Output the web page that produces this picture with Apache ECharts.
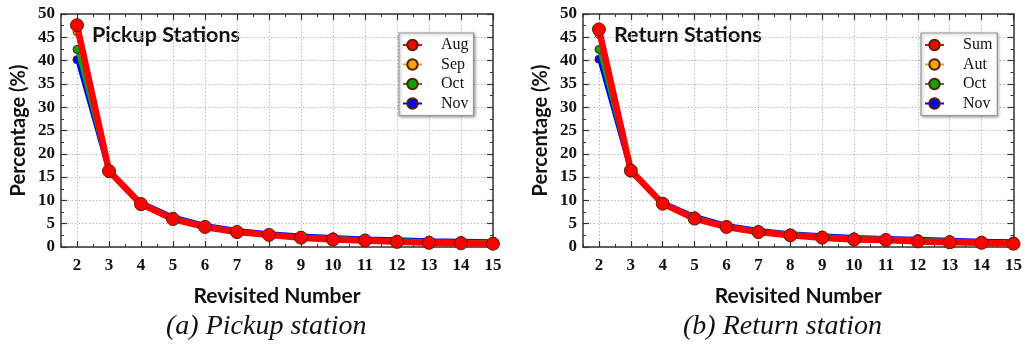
<!DOCTYPE html>
<html><head><meta charset="utf-8">
<script src="https://cdn.jsdelivr.net/npm/echarts@6/dist/echarts.min.js"></script>
<style>html,body{margin:0;padding:0;background:#fff}#c{width:1025px;height:347px}</style>
</head><body><div id="c"></div>
<script>
// ---- data ----
const revisited = [2,3,4,5,6,7,8,9,10,11,12,13,14,15];
const xTickValues = [2,3,4,5,6,7,8,9,10,11,12,13,14,15];
const pickupNames = ['Aug','Sep','Oct','Nov'];
const returnNames = ['Sum','Aut','Oct','Nov'];
const pickupAug = [47.6,16.3,9.2,6.0,4.3,3.2,2.6,2.0,1.6,1.4,1.1,0.9,0.8,0.7];
const pickupSep = [46.2,16.2,9.3,6.2,4.4,3.3,2.7,2.1,1.8,1.5,1.3,1.1,1.0,0.9];
const pickupOct = [42.4,16.0,9.4,6.4,4.6,3.5,2.8,2.3,2.0,1.7,1.5,1.3,1.2,1.1];
const pickupNov = [40.2,15.8,9.7,6.6,4.8,3.7,3.0,2.5,2.2,1.9,1.7,1.5,1.4,1.3];
const returnSum = [46.7,16.4,9.3,6.1,4.3,3.2,2.5,2.0,1.6,1.5,1.2,1.0,0.9,0.7];
const returnAut = [45.6,16.3,9.4,6.3,4.4,3.3,2.7,2.2,1.8,1.6,1.4,1.2,1.0,0.9];
const returnOct = [42.4,16.1,9.5,6.5,4.6,3.5,2.9,2.4,2.0,1.8,1.6,1.4,1.2,1.1];
const returnNov = [40.3,15.9,9.7,6.7,4.8,3.7,3.0,2.6,2.2,2.0,1.8,1.6,1.4,1.3];
const panelTitles = ['Pickup Stations','Return Stations'];
const captions = ['(a) Pickup station','(b) Return station'];

// ---- styling / layout ----
const colors = ['#ff0000','#f5a300','#10a010','#0000ff'];
const gridLefts = [61, 583];
const captionLefts = [166, 683];
const gridW = 432, gridTop = 14, gridH = 233;
const axisColor = '#333';
const serif = 'Liberation Serif';
const sans = 'Lato';

const grids = [], xAxes = [], yAxes = [], series = [], legends = [], graphics = [];

function panel(g, names, dataArr) {
  grids.push({left: gridLefts[g], top: gridTop, width: gridW, height: gridH, containLabel: false});
  const base = {gridIndex: g, type: 'value', min: 1.5, max: 15};
  const xi = xAxes.length;
  xAxes.push(Object.assign({}, base, {
    position: 'bottom',
    axisLine: {show: true, onZero: false, lineStyle: {color: axisColor, width: 1.5}},
    axisTick: {show: true, inside: true, length: 6, customValues: xTickValues, lineStyle: {color: axisColor, width: 1.2}},
    axisLabel: {show: true, customValues: xTickValues, margin: 10, color: '#111', fontFamily: serif, fontWeight: 'bold', fontSize: 17},
    splitLine: {show: true, lineStyle: {color: '#bbb', type: [1.5, 2], width: 1}},
    name: 'Revisited Number', nameLocation: 'middle', nameGap: 39,
    nameTextStyle: {fontFamily: sans, fontWeight: 'bold', fontSize: 21, color: '#111'}
  }));
  xAxes.push(Object.assign({}, base, {
    position: 'top',
    axisLine: {show: true, onZero: false, lineStyle: {color: axisColor, width: 1.5}},
    axisTick: {show: true, inside: true, length: 6, customValues: xTickValues, lineStyle: {color: axisColor, width: 1.2}},
    axisLabel: {show: false}, splitLine: {show: false}
  }));
  ['bottom','top'].forEach(pos => xAxes.push(Object.assign({}, base, {
    position: pos, interval: 0.5,
    axisLine: {show: false, onZero: false},
    axisTick: {show: true, inside: true, length: 3, lineStyle: {color: axisColor, width: 1}},
    axisLabel: {show: false}, splitLine: {show: false}
  })));
  const yi = yAxes.length;
  const ybase = {gridIndex: g, type: 'value', min: 0, max: 50, interval: 5};
  yAxes.push(Object.assign({}, ybase, {
    position: 'left',
    axisLine: {show: true, onZero: false, lineStyle: {color: axisColor, width: 1.5}},
    axisTick: {show: true, inside: true, length: 6, lineStyle: {color: axisColor, width: 1.2}},
    minorTick: {show: true, splitNumber: 2, length: 3, lineStyle: {color: axisColor, width: 1}},
    axisLabel: {margin: 6, color: '#111', fontFamily: serif, fontWeight: 'bold', fontSize: 17},
    splitLine: {show: true, lineStyle: {color: '#bbb', type: [1.5, 2], width: 1}},
    name: 'Percentage (%)', nameLocation: 'middle', nameGap: 32, nameRotate: 90,
    nameTextStyle: {fontFamily: sans, fontWeight: 'bold', fontSize: 20, color: '#111'}
  }));
  yAxes.push(Object.assign({}, ybase, {
    position: 'right',
    axisLine: {show: true, onZero: false, lineStyle: {color: axisColor, width: 1.5}},
    axisTick: {show: true, inside: true, length: 6, lineStyle: {color: axisColor, width: 1.2}},
    minorTick: {show: true, splitNumber: 2, length: 3, lineStyle: {color: axisColor, width: 1}},
    axisLabel: {show: false}, splitLine: {show: false}
  }));
  names.forEach((nm, i) => {
    const big = i === 0;
    series.push({
      type: 'line', name: nm, xAxisIndex: xi, yAxisIndex: yi,
      data: revisited.map((x, k) => [x, dataArr[i][k]]),
      z: 10 - i,
      symbol: 'circle', symbolSize: big ? 13 : 8,
      lineStyle: {color: colors[i], width: big ? 6.5 : 3.5},
      itemStyle: {color: colors[i], borderColor: '#552200', borderWidth: 1},
      emphasis: {disabled: true}, animation: false
    });
  });
  legends.push({
    data: names, orient: 'vertical', left: gridLefts[g] + 338, top: 33,
    backgroundColor: '#fff', borderColor: '#999', borderWidth: 1.2,
    shadowBlur: 3, shadowColor: 'rgba(0,0,0,0.35)', shadowOffsetX: 1, shadowOffsetY: 1,
    padding: [4, 5, 4, 3], itemGap: 3.5, itemWidth: 19, itemHeight: 13,
    textStyle: {fontFamily: serif, fontSize: 16, color: '#111', padding: [0, 0, 0, 14]}
  });
  graphics.push({type: 'text', left: gridLefts[g] + 31, top: 24,
    style: {text: panelTitles[g], font: 'bold 21.5px ' + sans, fill: '#111'}});
  graphics.push({type: 'text', left: captionLefts[g], top: 313,
    style: {text: captions[g], font: 'italic 28px ' + serif, fill: '#111'}});
}

panel(0, pickupNames, [pickupAug, pickupSep, pickupOct, pickupNov]);
panel(1, returnNames, [returnSum, returnAut, returnOct, returnNov]);

const chart = echarts.init(document.getElementById('c'), null, {renderer: 'canvas'});
chart.setOption({
  animation: false,
  grid: grids, xAxis: xAxes, yAxis: yAxes, series: series, legend: legends,
  graphic: graphics
});
</script>
</body></html>
